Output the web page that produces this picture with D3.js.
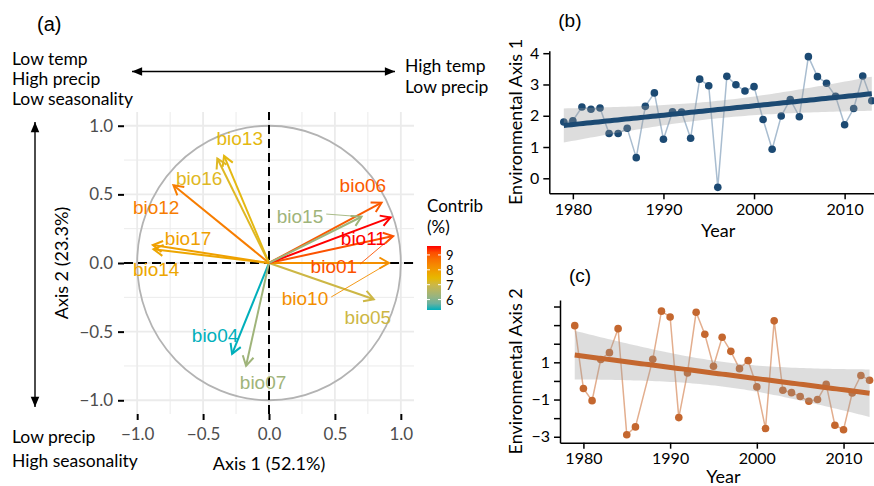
<!DOCTYPE html>
<html>
<head>
<meta charset="utf-8">
<script src="https://cdn.jsdelivr.net/npm/d3@7"></script>
<style>
body { margin: 0; background: #fff; }
svg { display: block; font-family: Lato, sans-serif; }
</style>
</head>
<body>
<svg id="fig" width="874" height="486"></svg>
<script>
// (a) PCA loadings of the bioclim variables
const bioVars   = ['bio01', 'bio04', 'bio05', 'bio06', 'bio07', 'bio10', 'bio11', 'bio12', 'bio13', 'bio14', 'bio15', 'bio16', 'bio17'];
const axis1Load = [0.942, -0.280, 0.795, 0.854, -0.174, 0.910, 0.922, -0.725, -0.341, -0.876, 0.702, -0.392, -0.881];
const axis2Load = [0.196, -0.662, -0.264, 0.439, -0.749, 0.000, 0.332, 0.567, 0.780, 0.100, 0.337, 0.761, 0.131];
const contrib   = [9.1, 5.3, 7.0, 9.0, 6.3, 8.2, 9.6, 8.5, 7.4, 7.8, 6.3, 7.3, 7.9];
// where the repelled labels sit, in axis units
const labelX = [0.492, -0.409, 0.750, 0.712, -0.045, 0.273, 0.716, -0.856, -0.222, -0.856, 0.235, -0.530, -0.614];
const labelY = [-0.022, -0.531, -0.400, 0.567, -0.873, -0.262, 0.182, 0.407, 0.909, -0.044, 0.342, 0.618, 0.182];
const leaderVars = ['bio01', 'bio10', 'bio15'];
const circleTicks = [-1, -0.5, 0, 0.5, 1];
const circleMinor = [-0.75, -0.25, 0.25, 0.75];
const legendTicks = [6, 7, 8, 9];

// (b) environmental axis 1 per year
const yearsB = [1979, 1980, 1981, 1982, 1983, 1984, 1985, 1986, 1987, 1988, 1989, 1990, 1991, 1992, 1993, 1994, 1995, 1996,
    1997, 1998, 1999, 2000, 2001, 2002, 2003, 2004, 2005, 2006, 2007, 2008, 2009, 2010, 2011, 2012, 2013];
const axis1 = [1.80, 1.84, 2.28, 2.21, 2.25, 1.43, 1.43, 1.60, 0.66, 2.30, 2.73, 1.25, 2.13, 2.12, 1.28, 3.17, 2.96, -0.29,
    3.26, 2.99, 2.79, 2.93, 1.88, 0.93, 1.99, 2.52, 1.97, 3.89, 3.25, 3.04, 2.62, 1.71, 2.23, 3.27, 2.48];
const axis1Ticks = [0, 1, 2, 3, 4];

// (c) environmental axis 2 per year (no 1987)
const yearsC = [1979, 1980, 1981, 1982, 1983, 1984, 1985, 1986, 1988, 1989, 1990, 1991, 1992, 1993, 1994, 1995, 1996,
    1997, 1998, 1999, 2000, 2001, 2002, 2003, 2004, 2005, 2006, 2007, 2008, 2009, 2010, 2011, 2012, 2013];
const axis2 = [2.97, -0.41, -1.06, 1.15, 1.52, 2.81, -2.89, -2.47, 1.16, 3.75, 3.44, -1.97, 0.43, 3.69, 2.51, 0.79, 2.35,
    1.59, 0.66, 1.09, -0.32, -2.56, 3.23, -0.50, -0.63, -0.84, -1.09, -1.00, -0.18, -2.38, -2.62, -0.65, 0.29, 0.04];
const axis2Ticks = [-3, -2, -1, 0, 1, 2, 3, 4];
const axis2TickLabels = [-3, -1, 1];
const yearTicks = [1980, 1990, 2000, 2010];

const svg = d3.select('#fig');
const contribColor = d3.scaleLinear()
    .domain([5.3, 7.45, 9.6])
    .range(['#00AFBB', '#E7B800', '#FF0000'])
    .interpolate(d3.interpolateLab);

function openHead(x1, y1, x2, y2, len) {
    const a = Math.atan2(y2 - y1, x2 - x1), s = Math.PI / 6;
    return `M${x2 - len * Math.cos(a - s)},${y2 - len * Math.sin(a - s)}L${x2},${y2}` +
        `L${x2 - len * Math.cos(a + s)},${y2 - len * Math.sin(a + s)}`;
}

function filledHead(x1, y1, x2, y2, len) {
    const a = Math.atan2(y2 - y1, x2 - x1), s = 0.4;
    return `M${x2},${y2}L${x2 - len * Math.cos(a - s)},${y2 - len * Math.sin(a - s)}` +
        `L${x2 - len * Math.cos(a + s)},${y2 - len * Math.sin(a + s)}Z`;
}

function doubleArrow(x1, y1, x2, y2) {
    svg.append('line').attr('x1', x1).attr('y1', y1).attr('x2', x2).attr('y2', y2)
        .attr('stroke', '#000').attr('stroke-width', 1.4);
    svg.append('path').attr('d', filledHead(x1, y1, x2, y2, 11)).attr('fill', '#000');
    svg.append('path').attr('d', filledHead(x2, y2, x1, y1, 11)).attr('fill', '#000');
}

function addText(x, y, str, size, opts = {}) {
    return svg.append('text').attr('x', x).attr('y', y).text(str)
        .attr('font-size', size)
        .attr('font-family', opts.family || 'Lato, sans-serif')
        .attr('fill', opts.fill || '#000')
        .attr('text-anchor', opts.anchor || 'start');
}

function drawCircle() {
    const x = d3.scaleLinear([-1.1, 1.1], [124, 414]);
    const y = d3.scaleLinear([-1.1, 1.1], [414, 112]);
    const g = svg.append('g');

    g.selectAll('.vminor').data(circleMinor).join('line')
        .attr('x1', d => x(d)).attr('x2', d => x(d)).attr('y1', y.range()[0]).attr('y2', y.range()[1])
        .attr('stroke', '#EBEBEB').attr('stroke-width', 1);
    g.selectAll('.hminor').data(circleMinor).join('line')
        .attr('y1', d => y(d)).attr('y2', d => y(d)).attr('x1', x.range()[0]).attr('x2', x.range()[1])
        .attr('stroke', '#EBEBEB').attr('stroke-width', 1);
    g.selectAll('.vmajor').data(circleTicks).join('line')
        .attr('x1', d => x(d)).attr('x2', d => x(d)).attr('y1', y.range()[0]).attr('y2', y.range()[1])
        .attr('stroke', '#EBEBEB').attr('stroke-width', 1.8);
    g.selectAll('.hmajor').data(circleTicks).join('line')
        .attr('y1', d => y(d)).attr('y2', d => y(d)).attr('x1', x.range()[0]).attr('x2', x.range()[1])
        .attr('stroke', '#EBEBEB').attr('stroke-width', 1.8);

    g.append('ellipse')
        .attr('cx', x(0)).attr('cy', y(0))
        .attr('rx', x(1) - x(0)).attr('ry', y(0) - y(1))
        .attr('fill', 'none').attr('stroke', '#B3B3B3').attr('stroke-width', 1.8);

    g.append('line').attr('x1', x.range()[0]).attr('x2', x.range()[1]).attr('y1', y(0)).attr('y2', y(0))
        .attr('stroke', '#000').attr('stroke-width', 2).attr('stroke-dasharray', '9 5');
    g.append('line').attr('x1', x(0)).attr('x2', x(0)).attr('y1', y.range()[0]).attr('y2', y.range()[1])
        .attr('stroke', '#000').attr('stroke-width', 2).attr('stroke-dasharray', '9 5');

    const xAxis = g.append('g').attr('transform', `translate(0,${y.range()[0]})`)
        .call(d3.axisBottom(x).tickValues(circleTicks).tickSize(6).tickPadding(8).tickFormat(d3.format('.1f')));
    const yAxis = g.append('g').attr('transform', `translate(${x.range()[0]},0)`)
        .call(d3.axisLeft(y).tickValues(circleTicks).tickSize(6).tickPadding(5).tickFormat(d3.format('.1f')));
    for (let ax of [xAxis, yAxis]) {
        ax.select('.domain').remove();
        ax.selectAll('line').attr('stroke', '#000').attr('stroke-width', 2);
        ax.selectAll('text').attr('font-size', 17).attr('font-family', 'Lato, sans-serif').attr('fill', '#4D4D4D');
    }

    // loadings
    bioVars.forEach((v, i) => {
        const col = contribColor(contrib[i]);
        const x2 = x(axis1Load[i]), y2 = y(axis2Load[i]);
        g.append('line').attr('x1', x(0)).attr('y1', y(0)).attr('x2', x2).attr('y2', y2)
            .attr('stroke', col).attr('stroke-width', 2);
        g.append('path').attr('d', openHead(x(0), y(0), x2, y2, 11))
            .attr('fill', 'none').attr('stroke', col).attr('stroke-width', 2)
            .attr('stroke-linejoin', 'miter');
    });
    bioVars.forEach((v, i) => {
        const col = contribColor(contrib[i]);
        const lbl = g.append('text')
            .attr('x', x(labelX[i])).attr('y', y(labelY[i]))
            .attr('text-anchor', 'middle').attr('dominant-baseline', 'central')
            .attr('font-family', '"Liberation Sans", Arial, sans-serif').attr('font-size', 19)
            .attr('fill', col).text(v);
        if (leaderVars.includes(v)) {
            const w = lbl.node().getComputedTextLength();
            const sx = x(labelX[i]) + w / 2 + 3, sy = y(labelY[i]) - 2;
            const tx = x(axis1Load[i]), ty = y(axis2Load[i]);
            const d = Math.hypot(tx - sx, ty - sy);
            g.append('line').attr('x1', sx).attr('y1', sy)
                .attr('x2', tx - (tx - sx) * 4 / d).attr('y2', ty - (ty - sy) * 4 / d)
                .attr('stroke', col).attr('stroke-width', 0.9);
        }
    });

    // colour bar
    const yLeg = d3.scaleLinear([5.3, 9.6], [310, 246]);
    const grad = svg.append('defs').append('linearGradient').attr('id', 'contribGrad')
        .attr('x1', 0).attr('x2', 0).attr('y1', 1).attr('y2', 0);
    d3.range(0, 1.0001, 0.1).forEach(t => {
        grad.append('stop').attr('offset', t)
            .attr('stop-color', contribColor(5.3 + t * (9.6 - 5.3)));
    });
    svg.append('rect').attr('x', 427).attr('y', yLeg(9.6)).attr('width', 14).attr('height', yLeg(5.3) - yLeg(9.6))
        .attr('fill', 'url(#contribGrad)');
    legendTicks.forEach(t => {
        svg.append('line').attr('x1', 427).attr('x2', 430).attr('y1', yLeg(t)).attr('y2', yLeg(t))
            .attr('stroke', '#fff').attr('stroke-width', 1);
        svg.append('line').attr('x1', 438).attr('x2', 441).attr('y1', yLeg(t)).attr('y2', yLeg(t))
            .attr('stroke', '#fff').attr('stroke-width', 1);
        addText(446, yLeg(t), t, 13).attr('dominant-baseline', 'central');
    });
    addText(427, 212, 'Contrib', 17);
    addText(427, 233, '(%)', 17);

    // titles and annotations
    addText(x(0), 470, 'Axis 1 (52.1%)', 18, { anchor: 'middle' });
    addText(0, 0, 'Axis 2 (23.3%)', 18, { anchor: 'middle' })
        .attr('transform', `translate(68,${y(0)}) rotate(-90)`);
    addText(37, 31, '(a)', 20, { family: '"Liberation Sans", Arial, sans-serif' });

    addText(12, 65, 'Low temp', 17.5);
    addText(12, 85, 'High precip', 17.5);
    addText(12, 105, 'Low seasonality', 17.5);
    addText(405, 72, 'High temp', 17.5);
    addText(405, 93, 'Low precip', 17.5);
    addText(12, 443, 'Low precip', 17.5);
    addText(12, 467, 'High seasonality', 17.5);
    doubleArrow(132, 71.5, 395, 71.5);
    doubleArrow(35, 122, 35, 407);
}

function fitLine(xs, ys) {
    const n = xs.length, mx = d3.mean(xs), my = d3.mean(ys);
    let sxx = 0, sxy = 0;
    xs.forEach((v, i) => { sxx += (v - mx) ** 2; sxy += (v - mx) * (ys[i] - my); });
    const b = sxy / sxx, a = my - b * mx;
    let sse = 0;
    xs.forEach((v, i) => { sse += (ys[i] - a - b * v) ** 2; });
    const s = Math.sqrt(sse / (n - 2)), t = n - 2 > 32 ? 2.0345 : 2.0369;
    const lo = d3.min(xs), hi = d3.max(xs);
    return d3.range(0, 81).map(k => {
        const xv = lo + (hi - lo) * k / 80;
        const fit = a + b * xv;
        const se = s * Math.sqrt(1 / n + (xv - mx) ** 2 / sxx);
        return { x: xv, fit: fit, lo: fit - t * se, hi: fit + t * se };
    });
}

function drawSeries(opts) {
    const x = d3.scaleLinear(opts.xDomain, opts.xRange);
    const y = d3.scaleLinear(opts.yDomain, opts.yRange);
    const g = svg.append('g');
    const pts = opts.years.map((yr, i) => [yr, opts.values[i]]);

    g.append('path').datum(pts)
        .attr('d', d3.line().x(d => x(d[0])).y(d => y(d[1])))
        .attr('fill', 'none').attr('stroke', opts.lineColor).attr('stroke-width', 1.5);
    g.selectAll('circle').data(pts).join('circle')
        .attr('cx', d => x(d[0])).attr('cy', d => y(d[1])).attr('r', 3.8)
        .attr('fill', opts.color);

    const fit = fitLine(opts.years, opts.values);
    g.append('path').datum(fit)
        .attr('d', d3.area().x(d => x(d.x)).y0(d => y(d.lo)).y1(d => y(d.hi)))
        .attr('fill', '#999999').attr('fill-opacity', 0.33);
    g.append('path').datum(fit)
        .attr('d', d3.line().x(d => x(d.x)).y(d => y(d.fit)))
        .attr('fill', 'none').attr('stroke', opts.color).attr('stroke-width', 5);

    const xAxis = g.append('g').attr('transform', `translate(0,${opts.yRange[0]})`)
        .call(d3.axisBottom(x).tickValues(yearTicks).tickFormat(d3.format('d')).tickSize(6).tickSizeOuter(0).tickPadding(4));
    const yAxis = g.append('g').attr('transform', `translate(${opts.xRange[0]},0)`)
        .call(d3.axisLeft(y).tickValues(opts.yTicks).tickFormat(opts.yFormat).tickSize(6).tickSizeOuter(0).tickPadding(4));
    for (let ax of [xAxis, yAxis]) {
        ax.select('.domain').attr('stroke', '#000').attr('stroke-width', 1.5);
        ax.selectAll('.tick line').attr('stroke', '#000').attr('stroke-width', 1.5);
        ax.selectAll('text').attr('font-size', 16).attr('font-family', 'Lato, sans-serif').attr('fill', '#000');
    }

    addText((opts.xRange[0] + opts.xRange[1]) / 2, opts.yRange[0] + opts.yearGap, 'Year', 18, { anchor: 'middle' });
    addText(0, 0, opts.yTitle, 18, { anchor: 'middle' })
        .attr('transform', `translate(522,${(opts.yRange[0] + opts.yRange[1]) / 2}) rotate(-90)`);
    addText(opts.xRange[0] + 9, opts.tagY, opts.tag, 19, { family: '"Liberation Sans", Arial, sans-serif' });
}

drawCircle();
drawSeries({
    years: yearsB, values: axis1,
    xDomain: [1977.4, 2014.7], xRange: [549.3, 887.2],
    yDomain: [-0.48, 4.08], yRange: [193.3, 50.7],
    yTicks: axis1Ticks, yFormat: d3.format('d'),
    color: '#1C4A73', lineColor: '#A9BDD0',
    yTitle: 'Environmental Axis 1', tag: '(b)', tagY: 27, yearGap: 44
});
drawSeries({
    years: yearsC, values: axis2,
    xDomain: [1977.3, 2015], xRange: [560, 886.9],
    yDomain: [-3.32, 4.35], yRange: [442.7, 300],
    yTicks: axis2Ticks, yFormat: d => axis2TickLabels.includes(d) ? d3.format('d')(d) : '',
    color: '#C4672F', lineColor: '#E3AE8E',
    yTitle: 'Environmental Axis 2', tag: '(c)', tagY: 282, yearGap: 40
});
</script>
</body>
</html>
